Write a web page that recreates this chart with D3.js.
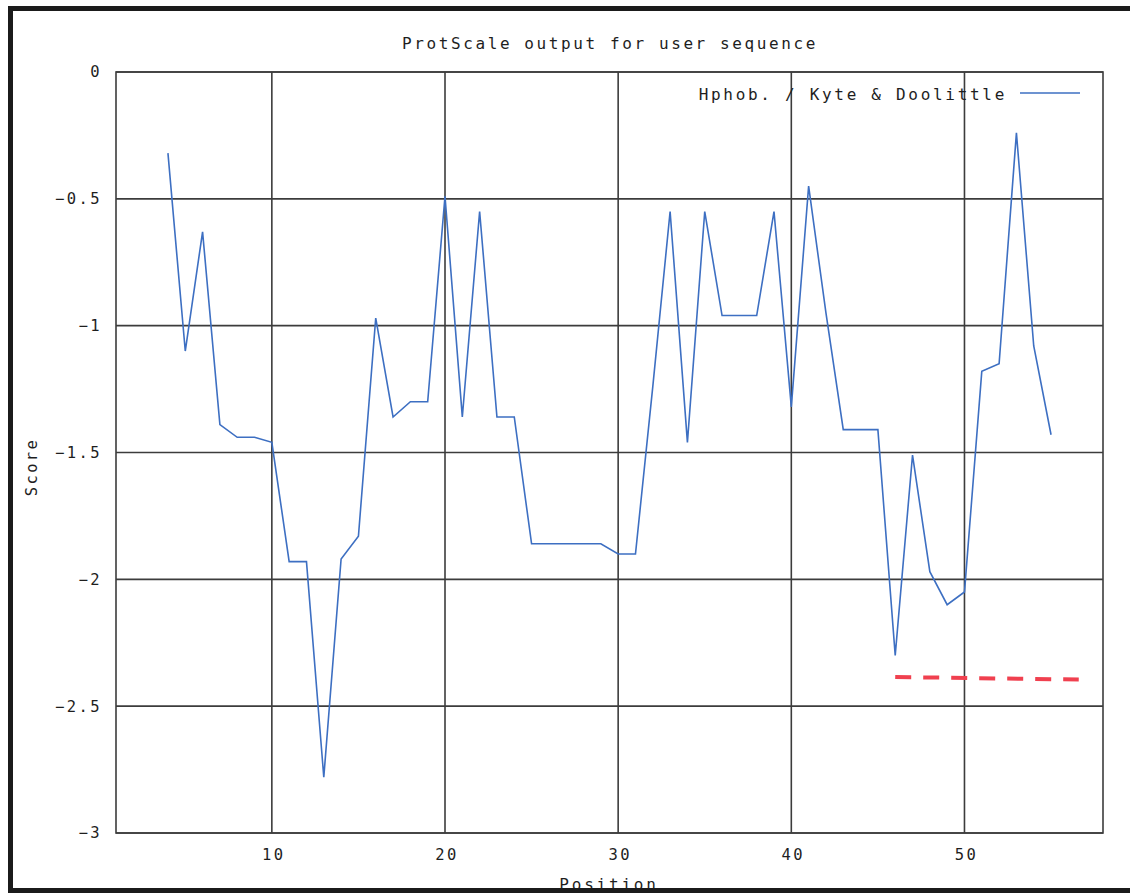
<!DOCTYPE html>
<html>
<head>
<meta charset="utf-8">
<script src="https://cdn.jsdelivr.net/npm/d3@7"></script>
<style>
  body { margin: 0; background: #fff; }
  text { font-family: "DejaVu Sans Mono", monospace; fill: #1e1e1e; }
</style>
</head>
<body>
<div id="chart"></div>
<script>
// window position and Kyte & Doolittle score
var positions = [4, 5, 6, 7, 8, 9, 10, 11, 12, 13, 14, 15, 16, 17, 18, 19, 20, 21, 22, 23, 24, 25, 26, 27, 28, 29,
                 30, 31, 32, 33, 34, 35, 36, 37, 38, 39, 40, 41, 42, 43, 44, 45, 46, 47, 48, 49, 50, 51, 52, 53, 54, 55];
var scores = [-0.32, -1.10, -0.63, -1.39, -1.44, -1.44, -1.46, -1.93, -1.93, -2.78, -1.92, -1.83, -0.97, -1.36, -1.30, -1.30,
              -0.49, -1.36, -0.55, -1.36, -1.36, -1.86, -1.86, -1.86, -1.86, -1.86,
              -1.90, -1.90, -1.24, -0.55, -1.46, -0.55, -0.96, -0.96, -0.96, -0.55, -1.32, -0.45, -0.95, -1.41, -1.41, -1.41,
              -2.30, -1.51, -1.97, -2.10, -2.05, -1.18, -1.15, -0.24, -1.08, -1.43];
var xTicks = [10, 20, 30, 40, 50];
var yTicks = [0, -0.5, -1, -1.5, -2, -2.5, -3];
var cutoffX = [46, 56.6];
var cutoffY = [-2.385, -2.395];

var width = 1130, height = 895;
var margin = {left: 116, right: 27, top: 72, bottom: 62};

var svg = d3.select('#chart').append('svg')
    .attr('width', width).attr('height', height);

var x = d3.scaleLinear().domain([1, 58]).range([margin.left, width - margin.right]);
var y = d3.scaleLinear().domain([-3, 0]).range([height - margin.bottom, margin.top]);

// outer frame
svg.append('rect')
    .attr('x', 10.5).attr('y', 8.5)
    .attr('width', 1125).attr('height', 882)
    .attr('fill', 'none').attr('stroke', '#1b1b1b').attr('stroke-width', 5);

// grid
svg.append('g').selectAll('line').data(xTicks).enter().append('line')
    .attr('x1', function(d) { return x(d); }).attr('x2', function(d) { return x(d); })
    .attr('y1', y(0)).attr('y2', y(-3))
    .attr('stroke', '#3c3c3c').attr('stroke-width', 1.6);
svg.append('g').selectAll('line').data(yTicks).enter().append('line')
    .attr('x1', x(1)).attr('x2', x(58))
    .attr('y1', function(d) { return y(d); }).attr('y2', function(d) { return y(d); })
    .attr('stroke', '#3c3c3c').attr('stroke-width', 1.6);

svg.append('rect')
    .attr('x', x(1)).attr('y', y(0))
    .attr('width', x(58) - x(1)).attr('height', y(-3) - y(0))
    .attr('fill', 'none').attr('stroke', '#3c3c3c').attr('stroke-width', 1.6);

// tick labels
svg.append('g').selectAll('text').data(yTicks).enter().append('text')
    .attr('x', 102).attr('y', function(d) { return y(d); })
    .attr('dy', '0.35em')
    .attr('text-anchor', 'end')
    .style('font-size', '15.5px').style('letter-spacing', '2.4px')
    .text(function(d) { return d3.format('')(d); });

svg.append('g').selectAll('text').data(xTicks).enter().append('text')
    .attr('x', function(d) { return x(d) + 2; }).attr('y', 855)
    .attr('dy', '0.35em')
    .attr('text-anchor', 'middle')
    .style('font-size', '15.5px').style('letter-spacing', '2.4px')
    .text(function(d) { return d; });

// titles
svg.append('text')
    .attr('x', 610).attr('y', 43).attr('dy', '0.35em')
    .attr('text-anchor', 'middle')
    .style('font-size', '16px').style('letter-spacing', '2.6px')
    .text('ProtScale output for user sequence');

svg.append('text')
    .attr('transform', 'translate(32,467) rotate(-90)')
    .attr('dy', '0.35em')
    .attr('text-anchor', 'middle')
    .style('font-size', '15.5px').style('letter-spacing', '2.4px')
    .text('Score');

svg.append('text')
    .attr('x', 609).attr('y', 884).attr('dy', '0.35em')
    .attr('text-anchor', 'middle')
    .style('font-size', '16px').style('letter-spacing', '2.8px')
    .text('Position');

// data line
var data = positions.map(function(p, i) { return {pos: p, score: scores[i]}; });
var line = d3.line()
    .x(function(d) { return x(d.pos); })
    .y(function(d) { return y(d.score); });

svg.append('path')
    .datum(data)
    .attr('d', line)
    .attr('fill', 'none')
    .attr('stroke', '#3d6fc2')
    .attr('stroke-width', 1.6);

// red dashed cutoff
var cutData = cutoffX.map(function(v, i) { return {pos: v, score: cutoffY[i]}; });
svg.append('path')
    .datum(cutData)
    .attr('d', line)
    .attr('fill', 'none')
    .attr('stroke', '#f0404f')
    .attr('stroke-width', 4)
    .attr('stroke-dasharray', '16,12');

// legend
svg.append('text')
    .attr('x', 1007).attr('y', 94).attr('dy', '0.35em')
    .attr('text-anchor', 'end')
    .style('font-size', '16px').style('letter-spacing', '2.7px')
    .text('Hphob. / Kyte & Doolittle');
svg.append('line')
    .attr('x1', 1020).attr('x2', 1080).attr('y1', 93).attr('y2', 93)
    .attr('stroke', '#3d6fc2').attr('stroke-width', 1.6);
</script>
</body>
</html>
